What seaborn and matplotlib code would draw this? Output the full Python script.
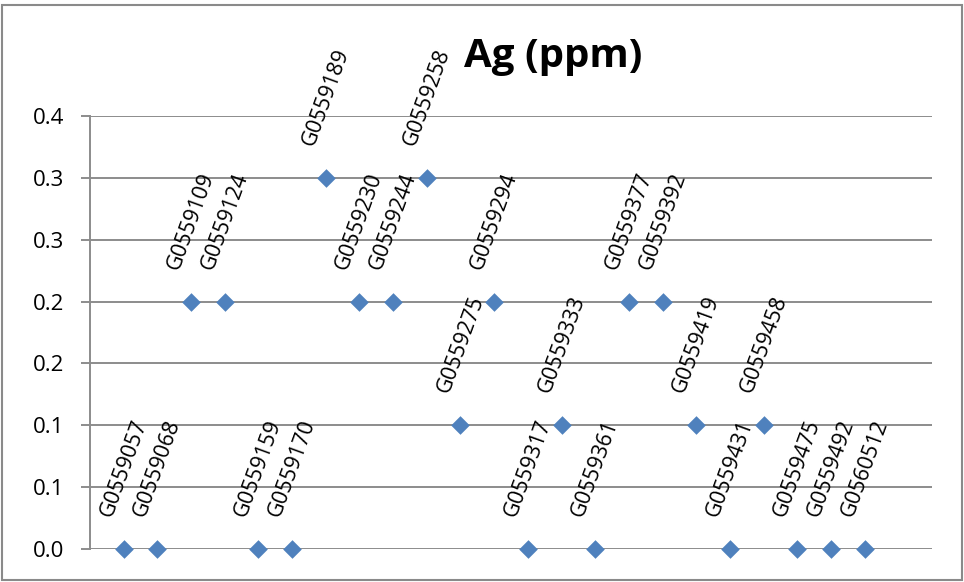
import matplotlib
matplotlib.use("Agg")
import matplotlib.pyplot as plt
import matplotlib.patches as mpatches
import seaborn as sns
import pandas as pd

# Sample identifiers in plotting order and their silver assays
samples = ["G0559057", "G0559068", "G0559109", "G0559124", "G0559159", "G0559170",
           "G0559189", "G0559230", "G0559244", "G0559258", "G0559275", "G0559294",
           "G0559317", "G0559333", "G0559361", "G0559377", "G0559392", "G0559419",
           "G0559431", "G0559458", "G0559475", "G0559492", "G0560512"]
ag_ppm = [0.0, 0.0, 0.2, 0.2, 0.0, 0.0,
          0.3, 0.2, 0.2, 0.3, 0.1, 0.2,
          0.0, 0.1, 0.0, 0.2, 0.2, 0.1,
          0.0, 0.1, 0.0, 0.0, 0.0]
sample_index = list(range(1, len(samples) + 1))

y_ticks = [0.0, 0.05, 0.10, 0.15, 0.20, 0.25, 0.30, 0.35]
y_tick_labels = ["0.0", "0.1", "0.1", "0.2", "0.2", "0.3", "0.3", "0.4"]

df = pd.DataFrame({"idx": sample_index, "ag": ag_ppm, "sample": samples})

sns.set_theme(style="white")
plt.rcParams["font.family"] = ["Open Sans", "DejaVu Sans"]

W, H = 964, 582
fig = plt.figure(figsize=(W / 100, H / 100), dpi=100)
ax = fig.add_axes([90 / W, 1 - 549 / H, (932 - 90) / W, (549 - 116) / H])

grid_c = "#8c8c8c"
marker_c = "#4F81BD"

sns.scatterplot(data=df, x="idx", y="ag", marker="D", s=90, color=marker_c,
                edgecolor=marker_c, linewidth=0, ax=ax, zorder=3, clip_on=False)

ax.set_xlim(0, 25)
ax.set_ylim(0, 0.35)
ax.set_yticks(y_ticks)
ax.set_yticklabels(y_tick_labels, fontsize=16, color="#000000")
ax.set_xticks([])
ax.set_xlabel("")
ax.set_ylabel("")

for yv in y_ticks:
    ax.axhline(yv, color=grid_c, lw=1.4, zorder=1)

for side in ["top", "right", "bottom"]:
    ax.spines[side].set_visible(False)
ax.spines["left"].set_color(grid_c)
ax.spines["left"].set_linewidth(1.4)
ax.tick_params(axis="y", length=6.5, width=1.4, color=grid_c, pad=12, left=True)

for xi, yi, name in zip(sample_index, ag_ppm, samples):
    ax.annotate(name, xy=(xi, yi), xytext=(0, 21), textcoords="offset points",
                ha="center", va="bottom", rotation=70, fontsize=15.5,
                color="#000000", annotation_clip=False)

fig.text(553 / W, 1 - 57 / H, "Ag (ppm)", ha="center", va="center",
         fontsize=29, fontweight="bold", color="#000000")

border = mpatches.Rectangle((2 / W, 2 / H), 960 / W, 575 / H, transform=fig.transFigure,
                            fill=False, edgecolor="#8a8a8a", lw=1.5)
fig.patches.append(border)

fig.savefig("out.png", dpi=100)
